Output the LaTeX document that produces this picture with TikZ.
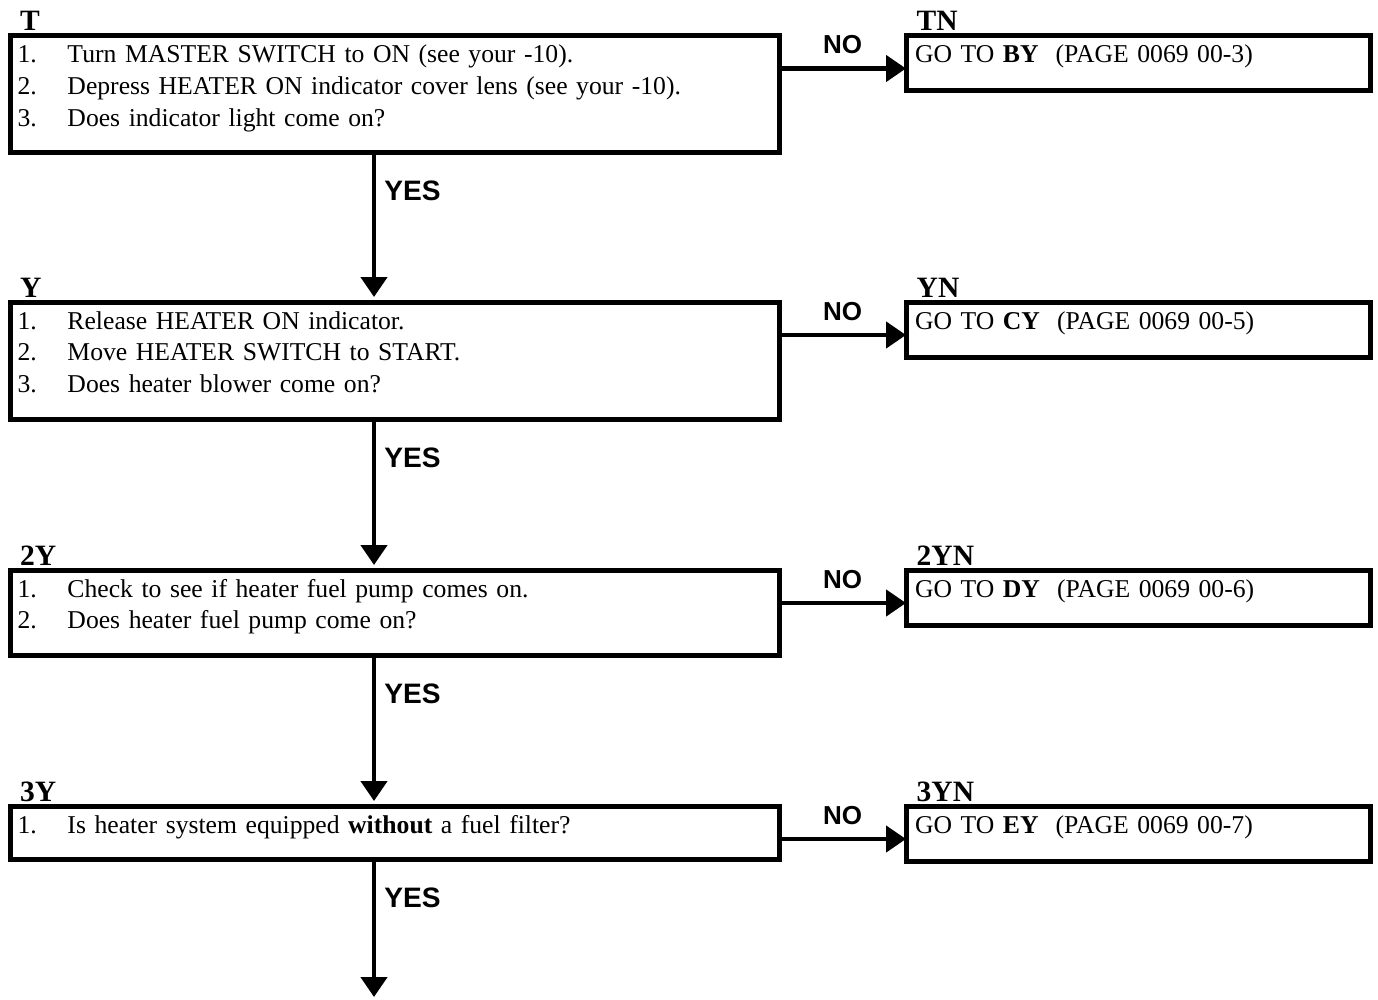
\documentclass[tikz,border=0pt]{standalone}
\usepackage{fontspec}
\setmainfont{Liberation Serif}
\newfontfamily\answerfont{Liberation Sans}
\usetikzlibrary{arrows.meta, positioning, calc}

% one numbered line inside a step box
\newcommand{\itm}[2]{\makebox[0.50cm][l]{#1}#2}

\begin{document}
\begin{tikzpicture}[
    stepbox/.style={draw, line width=0.05cm, rectangle, outer sep=0pt, inner xsep=0.07cm, inner ysep=0pt,
      text width=7.545cm, align=left, text height=0.27cm, font=\fontsize{7.3}{9.1}\selectfont},
    gotobox/.style={stepbox, inner xsep=0.09cm, text width=4.46cm, text depth=0.28cm},
    tag/.style={inner sep=0pt, anchor=base west, font=\fontsize{8.4}{10}\selectfont\bfseries},
    answer/.style={inner sep=0pt, font=\answerfont\bfseries\fontsize{7.4}{9}\selectfont},
    yesanswer/.style={inner sep=0pt, anchor=base west, xshift=0.08cm, yshift=-0.48cm,
      font=\answerfont\bfseries\fontsize{8}{10}\selectfont},
    arrowline/.style={line width=0.045cm, -{Triangle[length=0.2cm, width=0.26cm]}}
  ]
  \useasboundingbox (0,0) rectangle (13.78,-9.99);
  \coordinate (colx) at (3.74,0);

  % left column: the checks
  \node[stepbox, anchor=north west, text depth=0.90cm] (boxT) at (0.105,-0.355)
    {\itm{1.}{Turn MASTER SWITCH to ON (see your -10).}\\
     \itm{2.}{Depress HEATER ON indicator cover lens (see your -10).}\\
     \itm{3.}{Does indicator light come on?}};
  \node[stepbox, below=1.495cm of boxT, text depth=0.90cm] (boxY)
    {\itm{1.}{Release HEATER ON indicator.}\\
     \itm{2.}{Move HEATER SWITCH to START.}\\
     \itm{3.}{Does heater blower come on?}};
  \node[stepbox, below=1.51cm of boxY, text depth=0.58cm] (box2Y)
    {\itm{1.}{Check to see if heater fuel pump comes on.}\\
     \itm{2.}{Does heater fuel pump come on?}};
  \node[stepbox, below=1.51cm of box2Y, text depth=0.26cm] (box3Y)
    {\itm{1.}{Is heater system equipped \textbf{without} a fuel filter?}};

  % right column: the NO branches
  \node[gotobox, anchor=north west] (boxTN) at ([xshift=1.27cm]boxT.north east)
    {GO TO \textbf{BY}\ \ (PAGE 0069 00-3)};
  \node[gotobox, anchor=north west] (boxYN) at ([xshift=1.27cm]boxY.north east)
    {GO TO \textbf{CY}\ \ (PAGE 0069 00-5)};
  \node[gotobox, anchor=north west] (box2YN) at ([xshift=1.27cm]box2Y.north east)
    {GO TO \textbf{DY}\ \ (PAGE 0069 00-6)};
  \node[gotobox, anchor=north west] (box3YN) at ([xshift=1.27cm]box3Y.north east)
    {GO TO \textbf{EY}\ \ (PAGE 0069 00-7)};

  % tags above the boxes
  \node[tag] (tagT) at ([xshift=0.09cm, yshift=0.05cm]boxT.north west) {T};
  \node[tag] (tagY) at ([xshift=0.09cm, yshift=0.05cm]boxY.north west) {Y};
  \node[tag] (tag2Y) at ([xshift=0.09cm, yshift=0.05cm]box2Y.north west) {2Y};
  \node[tag] (tag3Y) at ([xshift=0.09cm, yshift=0.05cm]box3Y.north west) {3Y};
  \node[tag] (tagTN) at ([xshift=0.1cm, yshift=0.05cm]boxTN.north west) {TN};
  \node[tag] (tagYN) at ([xshift=0.1cm, yshift=0.05cm]boxYN.north west) {YN};
  \node[tag] (tag2YN) at ([xshift=0.1cm, yshift=0.05cm]box2YN.north west) {2YN};
  \node[tag] (tag3YN) at ([xshift=0.1cm, yshift=0.05cm]box3YN.north west) {3YN};

  % NO arrows
  \draw[arrowline] ([yshift=-0.33cm]boxT.north east) -- ([yshift=-0.33cm]boxTN.north west)
    node[midway, above=0.12cm, answer] {NO};
  \draw[arrowline] ([yshift=-0.33cm]boxY.north east) -- ([yshift=-0.33cm]boxYN.north west)
    node[midway, above=0.12cm, answer] {NO};
  \draw[arrowline] ([yshift=-0.33cm]box2Y.north east) -- ([yshift=-0.33cm]box2YN.north west)
    node[midway, above=0.12cm, answer] {NO};
  \draw[arrowline] ([yshift=-0.33cm]box3Y.north east) -- ([yshift=-0.33cm]box3YN.north west)
    node[midway, above=0.12cm, answer] {NO};

  % YES arrows
  \coordinate (endYES) at (3.74,-9.97);
  \draw[arrowline, shorten >=0.05cm] (boxT.south -| colx) -- (boxY.north -| colx)
    node[pos=0, yesanswer] {YES};
  \draw[arrowline, shorten >=0.05cm] (boxY.south -| colx) -- (box2Y.north -| colx)
    node[pos=0, yesanswer] {YES};
  \draw[arrowline, shorten >=0.05cm] (box2Y.south -| colx) -- (box3Y.north -| colx)
    node[pos=0, yesanswer] {YES};
  \draw[arrowline] (box3Y.south -| colx) -- (endYES)
    node[pos=0, yesanswer] {YES};
\end{tikzpicture}
\end{document}
